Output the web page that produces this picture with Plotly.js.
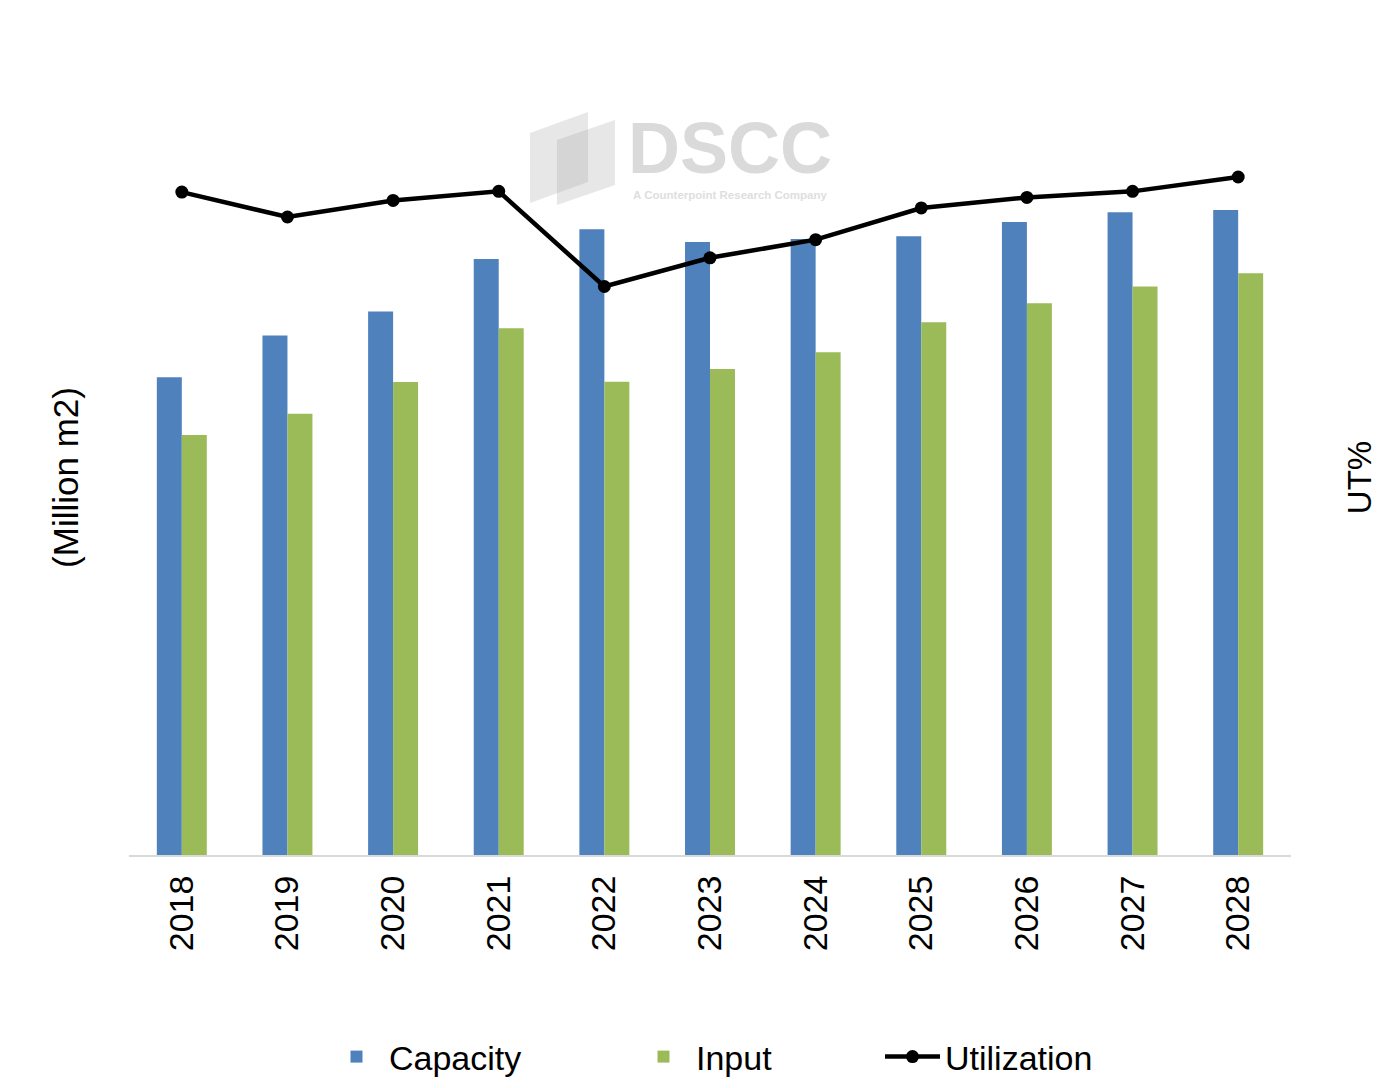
<!DOCTYPE html>
<html>
<head>
<meta charset="utf-8">
<script src="https://cdn.plot.ly/plotly-3.0.1.min.js"></script>
<style>
  html, body { margin: 0; padding: 0; background: #ffffff; }
  #chart { width: 1400px; height: 1088px; }
</style>
</head>
<body>
<div id="chart"></div>
<script>
// ---- data ----
var years = ['2018', '2019', '2020', '2021', '2022', '2023', '2024', '2025', '2026', '2027', '2028'];
var capacity = [221.5, 240.8, 251.9, 276.3, 290.1, 284.2, 285.6, 286.8, 293.5, 298.0, 299.0];
var input = [194.7, 204.5, 219.3, 244.2, 219.4, 225.3, 233.1, 247.0, 255.8, 263.5, 269.7];
var utilization = [87.8, 84.5, 86.7, 87.9, 75.3, 79.1, 81.5, 85.7, 87.1, 87.9, 89.8];
var seriesNames = ['Capacity', 'Input', 'Utilization'];
var leftTitle = '(Million m2)';
var rightTitle = 'UT%';
var watermarkMain = 'DSCC';
var watermarkSub = 'A Counterpoint Research Company';

// ---- layout helpers (page pixels -> paper coords) ----
var W = 1400, H = 1088;
var M = { l: 129, r: 109, t: 100, b: 233 };
var PW = W - M.l - M.r, PH = H - M.t - M.b;
function px(x) { return (x - M.l) / PW; }
function py(y) { return (H - M.b - y) / PH; }
function poly(pts) {
  return 'M' + pts.map(function (p) { return px(p[0]).toFixed(4) + ',' + py(p[1]).toFixed(4); }).join('L') + 'Z';
}

var FONT = 'Liberation Sans, Arial, sans-serif';
var LEG_ITEM = 55;

var traces = [
  {
    type: 'bar', name: seriesNames[0], x: years, y: capacity,
    marker: { color: '#4F81BD' }, yaxis: 'y', legendwidth: 307 - (LEG_ITEM + 15)
  },
  {
    type: 'bar', name: seriesNames[1], x: years, y: input,
    marker: { color: '#9BBB59' }, yaxis: 'y', legendwidth: 249 - (LEG_ITEM + 15)
  },
  {
    type: 'scatter', mode: 'lines+markers', name: seriesNames[2], x: years, y: utilization,
    line: { color: '#000000', width: 4.5 },
    marker: { color: '#000000', size: 13 },
    yaxis: 'y2'
  }
];

var layout = {
  width: W, height: H,
  margin: M,
  paper_bgcolor: '#ffffff',
  plot_bgcolor: 'rgba(0,0,0,0)',
  font: { family: FONT, color: '#000000' },
  barmode: 'group',
  bargap: 0.527,
  bargroupgap: 0,
  showlegend: true,
  legend: {
    orientation: 'h',
    xref: 'container', yref: 'container',
    x: (394 - (LEG_ITEM + 15)) / W, xanchor: 'left',
    y: 1 - 1057 / H, yanchor: 'middle',
    font: { family: FONT, size: 34, color: '#000000' },
    itemwidth: LEG_ITEM,
    traceorder: 'normal'
  },
  xaxis: {
    type: 'category',
    range: [-0.5, 10.5],
    showgrid: false,
    zeroline: false,
    showline: true,
    linecolor: '#d9d9d9',
    linewidth: 2,
    ticks: '',
    tickangle: -90,
    ticklabelstandoff: 5,
    tickfont: { family: FONT, size: 34, color: '#000000' },
    automargin: false,
    fixedrange: true
  },
  yaxis: {
    range: [0, 350],
    showgrid: false,
    zeroline: false,
    showline: false,
    showticklabels: false,
    ticks: '',
    title: { text: leftTitle, font: { family: FONT, size: 35, color: '#000000' }, standoff: 38 },
    automargin: false,
    fixedrange: true
  },
  yaxis2: {
    range: [0, 100],
    overlaying: 'y',
    side: 'right',
    showgrid: false,
    zeroline: false,
    showline: false,
    showticklabels: false,
    ticks: '',
    title: { text: rightTitle, font: { family: FONT, size: 33, color: '#000000' }, standoff: 56 },
    automargin: false,
    fixedrange: true
  },
  shapes: [
    {
      type: 'path', xref: 'paper', yref: 'paper', layer: 'below',
      path: poly([[530, 133], [588, 112], [588, 182], [530, 203]]),
      fillcolor: 'rgba(170,170,170,0.28)', line: { width: 0 }
    },
    {
      type: 'path', xref: 'paper', yref: 'paper', layer: 'below',
      path: poly([[557, 140], [615, 120], [615, 185], [557, 205]]),
      fillcolor: 'rgba(170,170,170,0.28)', line: { width: 0 }
    }
  ],
  annotations: [
    {
      xref: 'paper', yref: 'paper', x: px(730), y: py(203), xanchor: 'center', yanchor: 'bottom',
      align: 'center',
      text: '<span style="font-size:72px;color:#dadada"><b>' + watermarkMain + '</b></span><br>' +
            '<span style="font-size:11.5px;color:#dedede"><b>' + watermarkSub + '</b></span>',
      showarrow: false,
      font: { family: FONT, size: 20, color: '#dadada' }
    }
  ]
};

Plotly.newPlot('chart', traces, layout, { displayModeBar: false, staticPlot: true });
</script>
</body>
</html>
